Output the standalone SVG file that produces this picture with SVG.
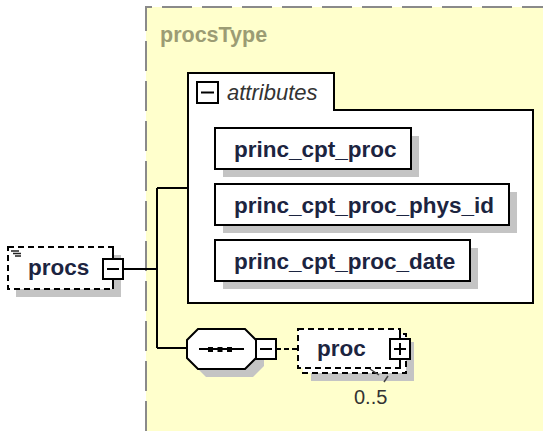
<svg xmlns="http://www.w3.org/2000/svg" width="543" height="431" viewBox="0 0 543 431">
<style>
.lbl{font-family:"Liberation Sans",Arial,sans-serif;font-weight:bold;font-size:22.5px;fill:#1c2440}
.shadow{fill:#c4c4c4}
.box{fill:#fff;stroke:#000;stroke-width:2}
.dbox{fill:#fff;stroke:#000;stroke-width:2;stroke-dasharray:6 4}
.icon{fill:#fff;stroke:#000;stroke-width:2}
.ln{stroke:#000;stroke-width:2;fill:none}
</style>
<rect x="0" y="0" width="543" height="431" fill="#fff"/>
<g id="procsType">
<rect x="146" y="7" width="400" height="430" fill="#ffffcc"/>
<path d="M146,431 V7 H543" fill="none" stroke="#8a8a8a" stroke-width="2" stroke-dasharray="30 10"/>
<text x="160" y="42" font-family="Liberation Sans, Arial, sans-serif" font-weight="bold" font-size="21.5" fill="#9c9c74">procsType</text>
</g>
<g id="connectors">
<path class="ln" d="M123,269 H157 M157,188 V348 M157,188 H188 M157,348 H188"/>
<path d="M276,349 H298" stroke="#000" stroke-width="2" stroke-dasharray="5 3"/>
</g>
<g id="procs">
<rect class="shadow" x="16" y="255" width="105" height="42"/>
<rect class="dbox" x="8" y="247" width="105" height="42"/>
<path d="M11,251 H19 M13,253.5 H21 M15,256 H21" stroke="#222" stroke-width="1.5"/>
<text class="lbl" x="28" y="275">procs</text>
<path class="ln" d="M113,247 V259 M113,279 V289"/>
<rect class="icon" x="103" y="259" width="20" height="20"/>
<path class="ln" d="M107,269 H119"/>
</g>
<g id="attributes">
<path class="box" d="M188,73 H334 V110 H533 V303 H188 Z"/>
<rect class="icon" x="197" y="82" width="21" height="21"/>
<path class="ln" d="M201,92.5 H214"/>
<text x="227" y="100" font-family="Liberation Sans, Arial, sans-serif" font-style="italic" font-size="22" fill="#333">attributes</text>
</g>
<g id="attr1">
<rect class="shadow" x="223" y="136" width="196" height="41"/>
<rect class="box" x="215" y="128" width="196" height="41"/>
<text class="lbl" x="234" y="157">princ_cpt_proc</text>
</g>
<g id="attr2">
<rect class="shadow" x="223" y="192" width="294" height="41"/>
<rect class="box" x="215" y="184" width="294" height="41"/>
<text class="lbl" x="234" y="213">princ_cpt_proc_phys_id</text>
</g>
<g id="attr3">
<rect class="shadow" x="223" y="248" width="255" height="41"/>
<rect class="box" x="215" y="240" width="255" height="41"/>
<text class="lbl" x="234" y="269">princ_cpt_proc_date</text>
</g>
<g id="sequence">
<polygon class="shadow" points="195,348 206,337 253,337 264,348 264,366 253,377 206,377 195,366"/>
<polygon class="box" points="187,340 198,329 245,329 256,340 256,358 245,369 198,369 187,358"/>
<path class="ln" d="M199,349 H244"/>
<rect x="208" y="347" width="5" height="5" fill="#000"/>
<rect x="217.5" y="347" width="5" height="5" fill="#000"/>
<rect x="227" y="347" width="5" height="5" fill="#000"/>
<rect class="icon" x="256" y="339" width="20" height="20"/>
<path class="ln" d="M260,349 H272"/>
</g>
<g id="proc">
<rect class="shadow" x="311" y="342" width="103" height="39"/>
<rect class="dbox" x="303" y="334" width="103" height="39"/>
<rect class="dbox" x="298" y="329" width="102" height="39"/>
<text class="lbl" x="317" y="356">proc</text>
<path class="ln" d="M400,329 V339 M400,359 V368"/>
<rect class="icon" x="390" y="339" width="20" height="20"/>
<path class="ln" d="M394,349 H406 M400,343 V355"/>
<path d="M370,369 L379,375 M388,376 L384,382" stroke="#444" stroke-width="1.5" fill="none"/>
<text x="354" y="404" font-family="Liberation Sans, Arial, sans-serif" font-size="20" fill="#333">0..5</text>
</g>
</svg>
